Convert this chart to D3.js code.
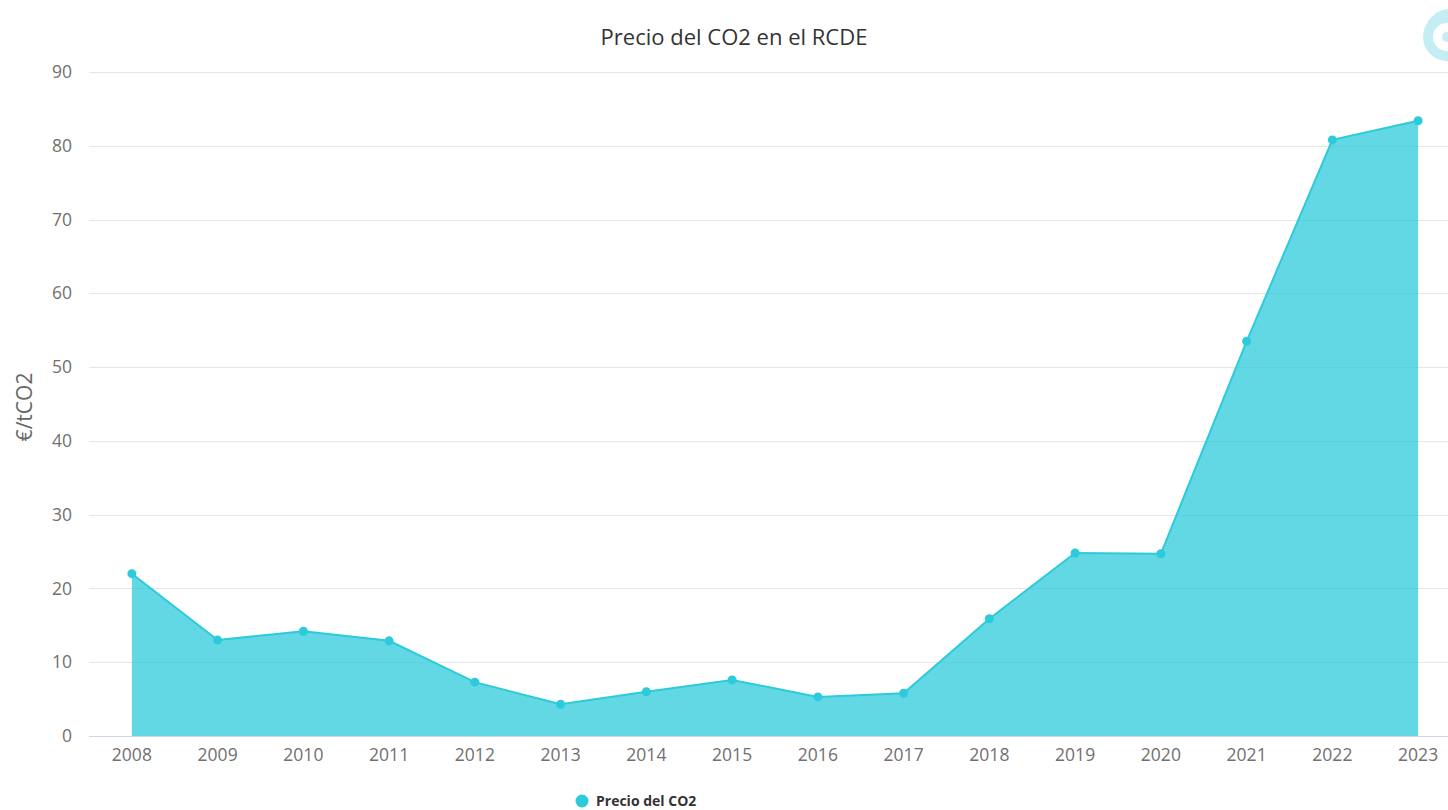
<!DOCTYPE html>
<html>
<head>
<meta charset="utf-8">
<title>Precio del CO2 en el RCDE</title>
<style>
  body { margin: 0; background: #fff; }
  svg { display: block; font-family: "Open Sans", "Noto Sans", sans-serif; }
</style>
</head>
<body>
<main></main>
<script src="https://cdn.jsdelivr.net/npm/d3@7"></script>
<script>
    // data
    var years = [2008, 2009, 2010, 2011, 2012, 2013, 2014, 2015, 2016, 2017, 2018, 2019, 2020, 2021, 2022, 2023];
    var prices = [22.0, 13.0, 14.2, 12.9, 7.3, 4.3, 6.0, 7.6, 5.3, 5.8, 15.9, 24.8, 24.7, 53.5, 80.8, 83.4];
    var yTicks = [0, 10, 20, 30, 40, 50, 60, 70, 80, 90];
    var seriesName = "Precio del CO2";

    var width = 1448, height = 810;
    var plot = {left: 89, right: 1461, top: 72, bottom: 736};
    var color = "#2ccbdc";

    var svg = d3.select("main").append("svg")
        .attr("width", width).attr("height", height);

    var x = d3.scaleBand().domain(years).range([plot.left, plot.right]);
    var y = d3.scaleLinear().domain([0, 90]).range([plot.bottom, plot.top]);
    var cx = function (d) { return x(d) + x.bandwidth() / 2; };

    // gridlines
    svg.append("g").selectAll("line").data(yTicks.slice(1)).enter().append("line")
        .attr("x1", plot.left).attr("x2", width)
        .attr("y1", function (d) { return Math.round(y(d)) + 0.5; })
        .attr("y2", function (d) { return Math.round(y(d)) + 0.5; })
        .attr("stroke", "#e6e6e6").attr("stroke-width", 1);

    // y axis labels
    var yAxis = svg.append("g").attr("transform", "translate(72,0)")
        .call(d3.axisLeft(y).tickValues(yTicks).tickSize(0).tickPadding(0));
    yAxis.select(".domain").remove();
    yAxis.selectAll("text").attr("fill", "#707070").attr("font-size", "17.5px")
        .attr("font-family", "'Open Sans', sans-serif");

    // y axis title
    svg.append("text")
        .attr("transform", "translate(32,407) rotate(-90)")
        .attr("text-anchor", "middle")
        .attr("fill", "#666").attr("font-size", "21px")
        .text("€/tCO2");

    // area + line
    var data = years.map(function (d, i) { return {year: d, value: prices[i]}; });
    var area = d3.area().x(function (d) { return cx(d.year); }).y0(y(0)).y1(function (d) { return y(d.value); });
    var line = d3.line().x(function (d) { return cx(d.year); }).y(function (d) { return y(d.value); });

    svg.append("path").datum(data).attr("d", area)
        .attr("fill", color).attr("fill-opacity", 0.74);
    svg.append("path").datum(data).attr("d", line)
        .attr("fill", "none").attr("stroke", color).attr("stroke-width", 2);

    svg.append("g").selectAll("circle").data(data).enter().append("circle")
        .attr("cx", function (d) { return cx(d.year); })
        .attr("cy", function (d) { return y(d.value); })
        .attr("r", 4.5).attr("fill", color);

    // x axis
    svg.append("line")
        .attr("x1", plot.left).attr("x2", width)
        .attr("y1", plot.bottom + 0.5).attr("y2", plot.bottom + 0.5)
        .attr("stroke", "#ccd6eb");
    var xAxis = svg.append("g").attr("transform", "translate(0," + plot.bottom + ")")
        .call(d3.axisBottom(x).tickSize(0).tickPadding(13));
    xAxis.select(".domain").remove();
    xAxis.selectAll("text").attr("fill", "#707070").attr("font-size", "17.5px")
        .attr("font-family", "'Open Sans', sans-serif");

    // title
    svg.append("text")
        .attr("x", 734).attr("y", 45)
        .attr("text-anchor", "middle")
        .attr("fill", "#333").attr("font-size", "22px")
        .text("Precio del CO2 en el RCDE");

    // legend
    svg.append("circle").attr("cx", 582).attr("cy", 801).attr("r", 6.5).attr("fill", color);
    svg.append("text").attr("x", 596).attr("y", 806)
        .attr("fill", "#333").attr("font-size", "14px").attr("font-weight", "bold")
        .text(seriesName);

    // logo (cropped, top right)
    var logo = svg.append("g").attr("transform", "translate(1447,37)");
    logo.append("circle").attr("r", 19).attr("fill", "none")
        .attr("stroke", "#c4eef4").attr("stroke-width", 10);
    logo.append("circle").attr("cx", 0).attr("cy", 0).attr("r", 5).attr("fill", "#c4eef4");
    logo.append("path").attr("d", "M-18,-14 Q-8,-28 8,-26").attr("fill", "none")
        .attr("stroke", "#c4eef4").attr("stroke-width", 4);
</script>
</body>
</html>
